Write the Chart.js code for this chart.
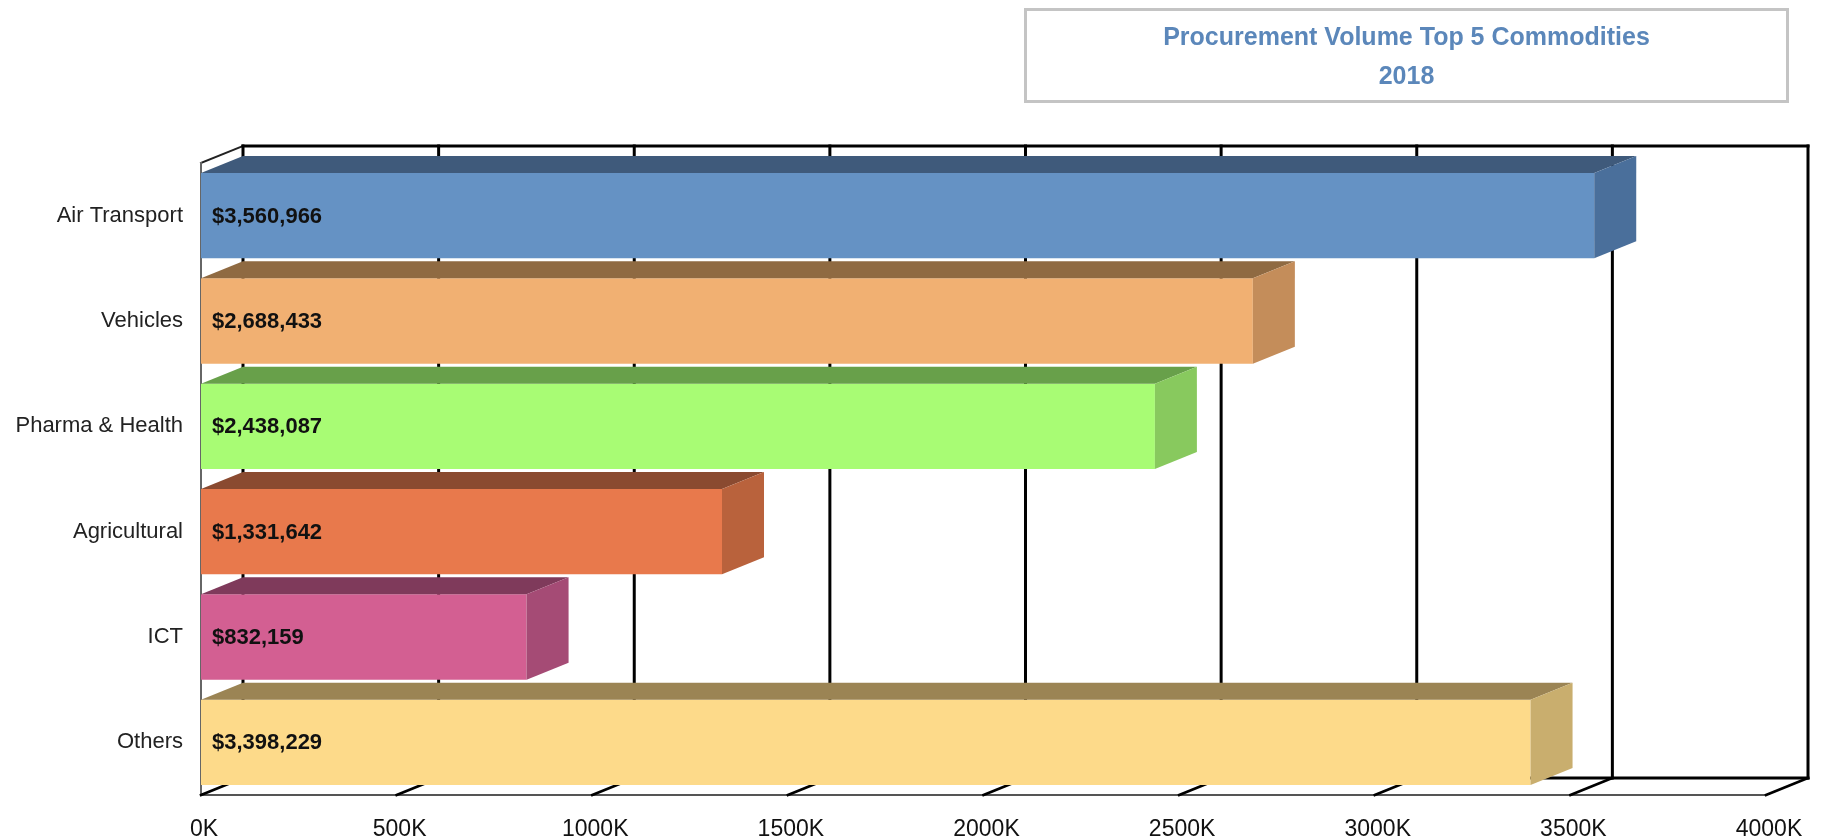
<!DOCTYPE html>
<html>
<head>
<meta charset="utf-8">
<script src="https://cdn.jsdelivr.net/npm/chart.js@4.4.1/dist/chart.umd.min.js"></script>
<style>
  html, body { margin: 0; padding: 0; background: #ffffff; }
  #wrap { position: relative; width: 1821px; height: 838px; }
  #title {
    position: absolute; left: 1024px; top: 8px; width: 759px;
    border: 3px solid #c4c4c4; box-sizing: content-box;
    font-family: 'Liberation Sans', Arial, sans-serif;
    font-weight: bold; font-size: 25px; color: #5b87ba; text-align: center;
    line-height: 39px; padding-top: 6px; height: 83px;
  }
  canvas { position: absolute; left: 0; top: 0; }
</style>
</head>
<body>
<div id="wrap">
  <canvas id="c" width="1821" height="838"></canvas>
  <div id="title">Procurement Volume Top 5 Commodities<br>2018</div>
</div>
<script>
const categories = ['Air Transport', 'Vehicles', 'Pharma & Health', 'Agricultural', 'ICT', 'Others'];
const values = [3560966, 2688433, 2438087, 1331642, 832159, 3398229];
const valueLabels = ['$3,560,966', '$2,688,433', '$2,438,087', '$1,331,642', '$832,159', '$3,398,229'];
const tickValues = [0, 500000, 1000000, 1500000, 2000000, 2500000, 3000000, 3500000, 4000000];
const tickLabels = ['0K', '500K', '1000K', '1500K', '2000K', '2500K', '3000K', '3500K', '4000K'];

const frontColors = ['#6592c4', '#f1b072', '#a8fc74', '#e8794c', '#d35f92', '#fdda8a'];
const topColors   = ['#3f5a7b', '#8f6a42', '#68a04a', '#8a4a30', '#7f3a5b', '#9b8454'];
const sideColors  = ['#4a6f9b', '#c48d5a', '#88c95e', '#b9623c', '#a54b75', '#c9ae6e'];

const DX = 42, DY = 17;

const box3d = {
  id: 'box3d',
  beforeDatasetsDraw(chart) {
    const ctx = chart.ctx, xs = chart.scales.x, a = chart.chartArea;
    const top = a.top - DY, bot = a.bottom - DY;
    ctx.save();
    ctx.lineCap = 'square';
    ctx.strokeStyle = '#222'; ctx.lineWidth = 2;
    ctx.beginPath(); ctx.moveTo(a.left, a.top); ctx.lineTo(a.left + DX, top); ctx.stroke();
    ctx.strokeStyle = '#666'; ctx.lineWidth = 2;
    ctx.beginPath(); ctx.moveTo(a.left, a.top); ctx.lineTo(a.left, a.bottom); ctx.stroke();
    ctx.strokeStyle = '#555'; ctx.lineWidth = 2;
    ctx.beginPath(); ctx.moveTo(a.left, a.bottom); ctx.lineTo(a.right, a.bottom); ctx.stroke();
    ctx.strokeStyle = '#000'; ctx.lineWidth = 3;
    const xl = xs.getPixelForValue(tickValues[0]) + DX;
    const xr = xs.getPixelForValue(tickValues[tickValues.length - 1]) + DX;
    ctx.beginPath(); ctx.moveTo(xl, top); ctx.lineTo(xr, top); ctx.stroke();
    ctx.beginPath(); ctx.moveTo(xl, bot); ctx.lineTo(xr, bot); ctx.stroke();
    tickValues.forEach(v => {
      const xb = xs.getPixelForValue(v) + DX;
      ctx.beginPath(); ctx.moveTo(xb, top); ctx.lineTo(xb, bot); ctx.stroke();
    });
    ctx.lineWidth = 2.5;
    tickValues.forEach(v => {
      const xf = xs.getPixelForValue(v);
      ctx.beginPath(); ctx.moveTo(xf, a.bottom); ctx.lineTo(xf + DX, bot); ctx.stroke();
    });
    ctx.restore();
  },
  afterDatasetsDraw(chart) {
    const ctx = chart.ctx;
    const meta = chart.getDatasetMeta(0);
    ctx.save();
    meta.data.forEach((bar, i) => {
      const p = bar.getProps(['x', 'y', 'base', 'height'], true);
      const t = p.y - p.height / 2, b = p.y + p.height / 2;
      ctx.fillStyle = topColors[i];
      ctx.beginPath();
      ctx.moveTo(p.base, t); ctx.lineTo(p.base + DX, t - DY);
      ctx.lineTo(p.x + DX, t - DY); ctx.lineTo(p.x, t); ctx.closePath(); ctx.fill();
      ctx.fillStyle = sideColors[i];
      ctx.beginPath();
      ctx.moveTo(p.x, t); ctx.lineTo(p.x + DX, t - DY);
      ctx.lineTo(p.x + DX, b - DY); ctx.lineTo(p.x, b); ctx.closePath(); ctx.fill();
      ctx.fillStyle = '#111';
      ctx.font = "bold 22px 'Liberation Sans', Arial, sans-serif";
      ctx.textAlign = 'left'; ctx.textBaseline = 'middle';
      ctx.fillText(valueLabels[i], p.base + 11, p.y + 1);
    });
    ctx.restore();
  }
};

new Chart(document.getElementById('c'), {
  type: 'bar',
  data: {
    labels: categories,
    datasets: [{
      data: values,
      backgroundColor: frontColors,
      borderWidth: 0,
      barPercentage: 0.81,
      categoryPercentage: 1.0
    }]
  },
  options: {
    indexAxis: 'y',
    responsive: false,
    animation: false,
    layout: { padding: { top: 163, right: 55, left: 0, bottom: 0 } },
    plugins: { legend: { display: false }, tooltip: { enabled: false }, title: { display: false } },
    scales: {
      x: {
        min: 0, max: 4000000,
        afterBuildTicks(scale) { scale.ticks = tickValues.map(v => ({ value: v })); },
        afterFit(scale) { scale.height = 43; },
        grid: { display: false, drawTicks: false },
        border: { display: false },
        ticks: {
          padding: 21,
          labelOffset: 3,
          autoSkip: false,
          maxRotation: 0,
          color: '#111',
          font: { family: "'Liberation Sans', Arial, sans-serif", size: 23 },
          callback: (v, i) => tickLabels[i]
        }
      },
      y: {
        afterFit(scale) { scale.width = 201; },
        grid: { display: false, drawTicks: false },
        border: { display: false },
        ticks: {
          padding: 18,
          color: '#222',
          font: { family: "'Liberation Sans', Arial, sans-serif", size: 22 }
        }
      }
    }
  },
  plugins: [box3d]
});
</script>
</body>
</html>
